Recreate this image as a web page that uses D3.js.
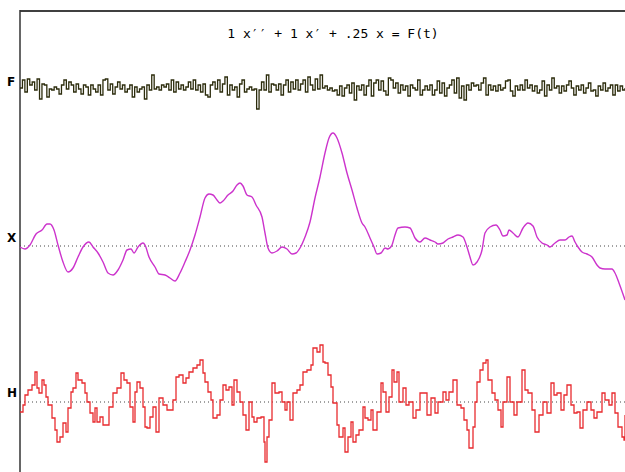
<!DOCTYPE html>
<html>
<head>
<meta charset="utf-8">
<script src="https://cdn.jsdelivr.net/npm/d3@7"></script>
<style>
  body { margin: 0; background: #fff; }
</style>
</head>
<body>
<div class="chart"></div>
<script>
const width = 625;
const height = 472;

const title = "1 x\u2032\u2032 + 1 x\u2032 + .25 x = F(t)";
const labels = ["F", "X", "H"];

// forcing F(t), evenly sampled
const fV = [0,8,-4,9,3,6,-2,9,-11,4,3,-9,-1,-2,1,-1,-6,3,8,-1,6,3,-4,4,-1,-6,3,1,-7,3,-1,-4,3,-7,8,9,-2,4,-6,1,6,-1,3,-4,-1,3,-9,1,-4,-1,1,-11,3,-2,13,-1,1,-2,3,
  1,4,-2,8,-4,6,-1,3,-2,1,6,-1,8,-2,3,-4,4,-7,-9,3,6,-1,8,-4,4,11,-7,3,-2,1,-9,4,8,-4,-1,1,-2,-1,-21,-2,6,-2,13,-4,4,3,-2,4,-7,3,8,-4,6,-1,8,-2,4,8,-4,11,3,-2,9,-1,
  13,0,2,-2,0,-3,-2,-7,2,-8,0,3,-5,5,-12,2,-2,3,-7,2,8,-8,5,8,-2,7,-3,-7,10,8,0,5,-5,3,-2,2,-8,3,0,-2,8,-7,-2,2,-2,3,-7,-2,7,-5,5,-8,0,3,8,-5,10,-10,2,-12,3,-2,5,
  2,3,-2,5,10,-7,3,-2,2,-3,3,-2,0,7,8,-3,-8,2,-2,3,-2,8,0,3,-3,2,-5,-2,7,-8,3,-2,10,0,2,-5,2,-3,3,7,0,-7,2,-2,3,-5,0,5,-3,-2,-8,2,-2,5,-3,0,3,-7,3,-3,2,-2,0];

// response x(t)
const xT = [0,5,10,16,22,27,30,34,38,43,48,53,58,63,69,73,78,83,88,93,98,103,107,111,114,118,123,125,129,135,139,145,150,155,160,165,170,175,180,185,189,193,197,200,203,208,213,217,220,223,227,232,236,242,245,248,252,257,262,267,272,276,280,285,290,295,300,305,309,313,317,322,327,332,337,342,345,350,354,357,361,365,368,372,375,378,385,390,395,400,405,410,415,418,423,428,433,438,443,447,450,453,457,462,465,470,476,480,483,487,489,493,498,503,508,513,517,522,527,530,535,540,545,549,552,555,558,562,567,572,577,580,585,592,595,599,605];
const xV = [-0.1,-0.3,0.1,1.2,1.6,2.2,2.2,1.6,0.1,-1.6,-2.6,-2.2,-1.1,-0.1,0.4,-0.1,-0.7,-1.6,-2.7,-2.9,-2.4,-1.4,-0.4,-0.3,-0.7,-0.1,0.3,0.1,-1.1,-2.1,-2.8,-2.9,-3.2,-3.5,-2.7,-1.6,-0.4,1.1,2.9,4.8,5.2,5.1,4.6,4.3,4.5,5.1,5.5,6.1,6.3,6.0,5.1,4.9,4.1,2.9,1.3,-0.2,-0.7,-0.5,-0.1,-0.3,-0.8,-0.7,-0.2,0.9,2.4,4.8,6.9,9.3,10.8,11.3,10.8,9.3,7.3,5.6,3.8,2.3,1.9,0.8,-0.1,-0.8,-0.7,-0.2,-0.3,0.1,1.1,1.8,1.9,1.8,0.8,0.4,0.8,0.6,0.4,0.2,0.3,0.7,0.9,1.1,0.9,-0.1,-1.1,-1.9,-1.6,-0.4,1.3,1.9,2.1,1.6,1.0,1.1,1.6,1.3,0.9,1.8,2.3,2.0,0.9,0.3,0.1,-0.1,0.3,0.6,0.6,0.9,1.0,0.4,-0.1,-0.6,-0.8,-1.1,-1.9,-2.2,-2.3,-2.3,-2.7,-3.7,-5.4];

// h(t)
const hT = [0,3,5,8,12,15,17,19,22,24,26,28,32,35,37,40,43,46,48,51,53,56,58,62,65,67,70,73,75,77,80,83,86,89,93,97,101,104,107,110,113,115,117,120,123,125,127,130,133,136,139,143,147,150,153,156,159,163,166,169,173,177,180,183,185,188,191,193,197,200,203,206,209,212,214,217,220,223,226,229,232,234,237,241,244,245,247,249,252,255,259,262,265,267,270,273,277,280,283,287,291,293,297,300,303,305,308,311,313,317,319,323,325,328,331,333,336,339,343,345,348,351,353,357,361,363,366,369,372,374,377,379,383,386,389,393,396,400,404,407,411,415,418,423,426,429,433,437,441,444,447,449,453,455,457,460,463,466,468,472,475,478,481,483,487,490,494,497,502,505,508,512,515,519,523,527,531,534,537,541,544,547,551,554,557,560,563,567,571,574,577,582,585,589,592,595,598,602,604,605];
const hV = [-1.0,-0.3,0.7,1.2,1.7,3.0,1.4,0.9,2.2,1.7,0.5,-0.3,-1.6,-2.8,-4.0,-3.5,-2.1,-3.0,-0.6,1.0,1.4,2.9,2.2,1.9,0.9,0.0,-1.1,-2.0,-0.6,-2.0,-1.5,-2.3,-2.3,-0.5,0.9,1.4,2.9,2.2,1.9,-0.5,-2.0,1.0,2.0,1.4,-0.5,-2.5,-2.6,-1.5,-0.5,-3.0,0.4,-0.3,-0.8,-0.8,0.2,2.5,2.7,1.9,2.4,3.0,3.4,3.7,4.2,2.9,2.0,1.0,0.2,-1.6,-1.3,0.2,1.7,1.2,1.5,-0.3,2.2,1.0,0.0,-1.3,-2.8,0.0,-1.5,-2.0,-1.6,-1.5,-4.0,-6.0,-3.5,-1.8,1.9,0.9,1.0,0.0,-0.8,0.0,-1.8,0.9,1.2,1.7,3.0,3.2,3.7,5.4,5.0,5.7,4.0,3.9,2.7,1.5,-0.1,-2.3,-3.5,-2.6,-5.0,-3.5,-2.0,-4.0,-3.3,-2.8,-0.5,-1.6,-1.8,-0.8,-2.8,-1.0,1.9,1.0,-1.0,0.5,3.2,2.0,3.0,0.0,1.4,-0.3,0.0,-1.6,-0.8,0.9,0.9,-1.3,0.4,-1.1,0.0,1.0,0.2,1.0,2.2,-0.3,-0.6,-1.8,-2.8,-4.6,-2.5,0.0,2.0,3.2,3.9,4.2,2.2,0.9,0.2,-0.8,-2.5,0.0,2.5,0.0,-1.3,0.0,3.2,1.2,0.9,-0.8,-3.0,-1.3,0.0,-1.1,1.9,0.7,0.9,-0.8,0.7,1.7,-0.3,-1.1,-1.0,-2.6,-0.8,0.0,-0.8,-1.6,-1.0,0.9,0.2,-0.3,0.9,-1.1,-2.5,-3.5,-3.8,-1.3];

const svg = d3.select('.chart')
    .append('svg')
    .attr('width', width)
    .attr('height', height);

const x = d3.scaleLinear().domain([0, 605]).range([20, 625]);
const xF = d3.scaleLinear().domain([0, fV.length - 1]).range([20, 625]);

const yF = d3.scaleLinear().domain([-10, 10]).range([98, 78]);
const yX = d3.scaleLinear().domain([-6, 12]).range([306, 126]);
const yH = d3.scaleLinear().domain([-6, 6]).range([462, 342]);

// frame
svg.append('line')
    .attr('x1', 20).attr('x2', 625)
    .attr('y1', 11).attr('y2', 11)
    .attr('stroke', '#000').attr('stroke-width', 1.5);
svg.append('line')
    .attr('x1', 20).attr('x2', 20)
    .attr('y1', 10).attr('y2', height)
    .attr('stroke', '#333').attr('stroke-width', 1.5);

svg.append('text')
    .attr('x', 333)
    .attr('y', 38)
    .attr('text-anchor', 'middle')
    .attr('font-family', 'DejaVu Sans Mono')
    .attr('font-size', 13)
    .text(title);

// zero lines
[yX(0), yH(0)].forEach(function(yy) {
    svg.append('line')
        .attr('x1', 20).attr('x2', 625)
        .attr('y1', yy).attr('y2', yy)
        .attr('stroke', '#444')
        .attr('stroke-width', 1)
        .attr('stroke-dasharray', '1,3');
});

// side labels
const labelY = [yF(0) - 2, yX(0) - 4, yH(0) - 5];
svg.selectAll('.lab')
    .data(labels)
    .enter()
    .append('text')
    .attr('class', 'lab')
    .attr('x', 7)
    .attr('y', function(d, i) { return labelY[i]; })
    .attr('font-family', 'DejaVu Sans')
    .attr('font-weight', 'bold')
    .attr('font-size', 12)
    .text(function(d) { return d; });

// F(t)
svg.append('path')
    .datum(fV)
    .attr('fill', 'none')
    .attr('stroke', '#2c2c0c')
    .attr('stroke-width', 1.3)
    .attr('d', d3.line()
        .x(function(d, i) { return xF(i); })
        .y(function(d) { return yF(d); })
        .curve(d3.curveStepAfter));

// x(t)
svg.append('path')
    .datum(xT)
    .attr('fill', 'none')
    .attr('stroke', '#cc33cc')
    .attr('stroke-width', 1.4)
    .attr('d', d3.line()
        .x(function(d) { return x(d); })
        .y(function(d, i) { return yX(xV[i]); })
        .curve(d3.curveMonotoneX));

// h(t)
svg.append('path')
    .datum(hT)
    .attr('fill', 'none')
    .attr('stroke', '#e82a2e')
    .attr('stroke-width', 1.3)
    .attr('d', d3.line()
        .x(function(d) { return x(d); })
        .y(function(d, i) { return yH(hV[i]); })
        .curve(d3.curveStepAfter));
</script>
</body>
</html>
